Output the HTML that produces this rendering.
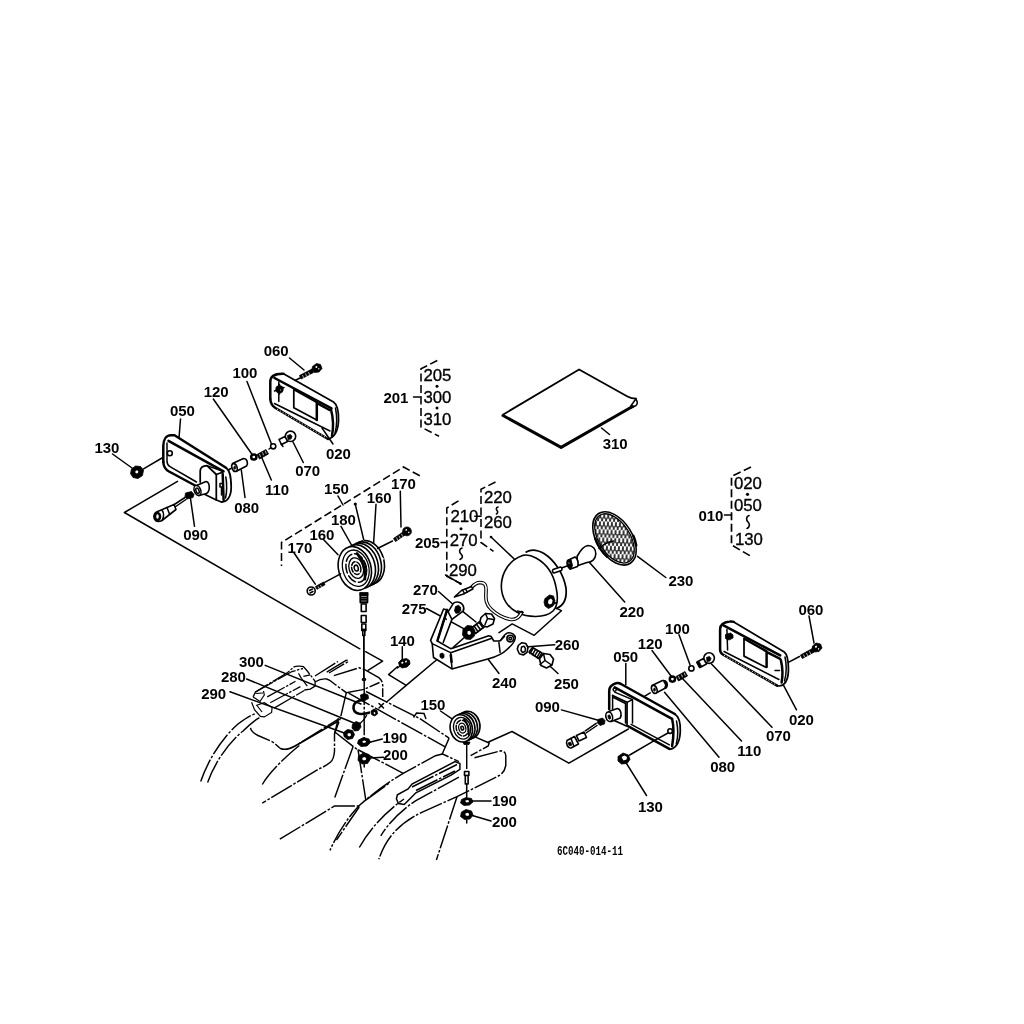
<!DOCTYPE html>
<html><head><meta charset="utf-8"><title>Parts diagram</title>
<style>
html,body{margin:0;padding:0;background:#fff;}
body{width:1024px;height:1024px;overflow:hidden;font-family:"Liberation Sans",sans-serif;}
svg{display:block;}
text{font-family:"Liberation Sans",sans-serif;fill:#000;}
.b{font-weight:bold;font-size:15px;}
.t{font-weight:normal;font-size:16.8px;stroke:#000;stroke-width:0.35px;}
.m{font-family:"Liberation Mono",monospace;font-size:9.17px;font-weight:bold;}
.l{fill:none;stroke:#000;stroke-width:1.5;stroke-linecap:round;stroke-linejoin:round;}
.o{fill:none;stroke:#000;stroke-width:1.75;stroke-linecap:round;stroke-linejoin:round;}
.h{fill:none;stroke:#000;stroke-width:2.5;stroke-linecap:round;stroke-linejoin:round;}
.w{fill:#fff;stroke:#000;stroke-width:1.6;stroke-linecap:round;stroke-linejoin:round;}
.k{fill:#000;stroke:#000;stroke-width:0.8;stroke-linejoin:round;}
.d{fill:none;stroke:#000;stroke-width:1.55;stroke-dasharray:8 3.5;}
.c{fill:none;stroke:#000;stroke-width:1.45;stroke-dasharray:24 1.8 2.6 1.8;stroke-linecap:butt;}
</style></head><body>
<svg width="1024" height="1024" viewBox="0 0 1024 1024">
<rect width="1024" height="1024" fill="#fff"/>
<!-- LEADERS -->
<g id="leaders" class="l">
<path d="M289.5 358L304 370"/>
<path d="M247 381.5L271.3 443.5"/>
<path d="M213.3 399L252.5 455"/>
<path d="M180.5 419L179 438"/>
<path d="M112.5 454L132 468"/>
<path d="M303.3 462.5L292 440"/>
<path d="M271.3 480L261.3 456.5"/>
<path d="M245 497.5L241.3 470"/>
<path d="M194.5 526.3L190.4 498"/>
<path d="M143.5 468.8L162 458"/>
<path d="M333 444L322 428"/>
<!-- horn group -->
<path d="M400.3 491.3L401 527"/>
<path d="M376 504.3L373.5 545"/>
<path d="M355.3 504.3L364 541"/>
<path d="M341 526.3L351.5 545"/>
<path d="M323.5 539.6L338 554.7"/>
<path d="M294.1 553L315.3 584.1"/>
<path d="M338 496L343 505"/>
<!-- brackets ticks -->
<path d="M413.5 397H421"/>
<path d="M474.8 516.3H481"/>
<path d="M441 542.5H446.8"/>
<path d="M724.5 515H731.5" stroke-width="1.6"/>
<!-- 310 / 230 / 220 -->
<path d="M601.5 428L609.5 434.5"/>
<path d="M637.5 556.3L665.8 577.5"/>
<path d="M589.5 562.4L624.7 602"/>
<path d="M491 537L514 558.8"/>
<!-- bracket area -->
<path d="M438.5 591.5L453.5 604.8"/>
<path d="M426.5 608.5L466 629.8"/>
<path d="M402.3 646.8V659"/>
<path d="M554.8 644.8L528.5 646.8"/>
<path d="M499 673.5L488.5 659.8"/>
<path d="M558 673.5L549.8 666"/>
<path d="M440.5 711L453.5 719.8"/>
<path d="M561.4 709.9L598.3 720.2"/>
<path d="M382.3 739L369.8 742.3"/>
<path d="M383.5 757.3L369.8 758"/>
<path d="M491 801H472.3"/>
<path d="M491 821L472.3 815.5"/>
<!-- 300 280 290 -->
<path d="M265.200 665.400L361 704"/>
<path d="M246.600 679L354 723"/>
<path d="M230 691.800L345 733.300"/>
<!-- right lamp -->
<path d="M809 616L814 643"/>
<path d="M679 634.8L690 664.8"/>
<path d="M652 650.5L672 677.3"/>
<path d="M625.8 663.5V684.8"/>
<path d="M796.5 709.8L783.3 684.8"/>
<path d="M772 727.3L711.5 664"/>
<path d="M741.5 741L682.5 678.5"/>
<path d="M719 757.3L664.5 692.3"/>
<path d="M646.5 795.5L625.8 762.3"/>
<path d="M629.7 755L654.3 740.7L668 733"/>
<path d="M799.5 656.5L788.3 662.3"/>
</g>
<!-- BRACKETS (dashed) -->
<g id="brackets" class="d">
<path d="M437.3 360.5L421 368.8V427L439 436.3"/>
<path d="M458.5 500.8L446.8 508V576.3L461 583.8"/>
<path d="M495.5 482L481 489.3V542.5L493.5 551.3"/>
<path d="M751 467L731.5 476.3V545L751 556.3" stroke-width="1.7"/>
<path d="M419.8 475.8L403.5 467L281.5 542.500V566"/>
</g>
<g id="dots" fill="#000">
<circle cx="437" cy="386.3" r="1.5"/><circle cx="437" cy="408" r="1.5"/>
<circle cx="461" cy="528.8" r="1.5"/><circle cx="747.5" cy="494.3" r="1.6"/>
<circle cx="355.3" cy="504" r="1.6"/><circle cx="491" cy="537" r="1.3"/>
</g>
<g class="l" style="stroke-width:1.6">
<path d="M462 548c-3 1-3 4-1 6s2 4-1 5.5"/>
<path d="M498 507c-2 .5-2 2.500-1 3.500s1 2.500-.5 3.500"/>
<path d="M749 515.500c-3 1-3 4.500-1 6.500s2 5-1 6.500"/>
</g>
<!-- LONG ASSEMBLY LINES -->
<g id="long" class="l">
<path d="M177.500 481.300L124.400 512.500L359.800 648.800"/>
<path d="M365.600 651.700L382.600 661.100L368 670.400"/>
<path d="M440 657L406.200 685.400L386.600 702"/>
<path d="M397.400 666.800L388.600 674.600L406.200 685.400"/>
<path d="M488.500 742L512 731.500L568.900 763.200L628.400 729"/>
</g>
<!-- LEFT LAMP 050 -->
<g id="lampL">
<path class="h" d="M163.300 462V446C163.300 440 166 435.300 171 435.300H174.500L226 467.800" />
<path class="o" d="M226 467.800C230 470.500 231 476 231.200 487C231.200 497 227 502.200 221.500 502"/>
<path class="h" d="M163.300 462C163.500 467 165.500 469.500 169 471.500L196 486" stroke-width="2"/>
<path class="l" d="M167 443V461C167 464 168 465.500 170 466.700L196.500 482"/>
<path class="h" d="M168.500 440.800L223.500 471.300" stroke-width="1.8"/>
<circle class="w" cx="169.800" cy="453.200" r="2.500"/>
<!-- housing box -->
<path class="o" d="M200.200 482V471C200.200 467.500 202.500 465.800 207 465.600L216.300 474.500V500L204 494"/>
<path class="l" d="M207 465.600L223.500 471.500M216.300 474.500L223 472M216.300 500L221.500 502"/>
<path class="h" d="M222.700 474L223.600 500" stroke-width="2.600"/>
<path class="l" d="M220 483.500h3v3.500h-3zM221.500 487V495"/>
<path class="l" d="M225.800 477C227 483 227 493 225.500 498"/>
<!-- socket -->
<path class="w" d="M196.500 485.500L206 481.500C210 482 210.500 491 206.500 493.500L199 495.500z"/>
<ellipse class="w" cx="197.500" cy="490.500" rx="3.200" ry="5.200" transform="rotate(-20 197.500 490.500)"/>
<ellipse class="l" cx="197.500" cy="490.800" rx="1.500" ry="2.800" transform="rotate(-20 197.500 490.800)"/>
</g>
<!-- 090 connector -->
<g id="conn090L">
<path class="k" d="M185.500 493l6-1.500 2.500 3-1 3-6 1.500-2-2.500z"/>
<path class="l" d="M185 497.500L173.500 505M186 499.500L175 507"/>
<path class="w" d="M174 504.500L156.500 512C153.500 513.500 153 518 155.500 520.500C157.500 522 160 521.500 162 520.500L176 509.500z"/>
<path class="l" d="M167 507.500L169.500 514M162 510C164 513 164 517 162 520.500"/>
<ellipse class="h" cx="157.500" cy="516.500" rx="2.500" ry="3.500" stroke-width="1.800"/>
</g>
<!-- 130 nut L -->
<g id="nut130L">
<path class="k" d="M131.500 469l4-3 5 .5 3 3.500-1 5.500-4.500 3-5-1-2.500-4z"/>
<path d="M135.500 471l1.500-.7 1.300 1-.3 1.700-1.700.4-1-1z" fill="#fff"/>
</g>
<!-- 080 L -->
<g id="p080L">
<path class="w" d="M232.500 463.500L243.500 458.500C247 458.500 248.500 463 246.500 466L236 471.500z"/>
<ellipse class="w" cx="234.500" cy="467.500" rx="2.500" ry="4" transform="rotate(-20 234.500 467.500)"/>
<ellipse class="k" cx="234.700" cy="467.700" rx="0.900" ry="1.600"/>
<path class="l" d="M231 468.500L228 470"/>
</g>
<!-- 120 / 110 / 100 L -->
<g id="smallL">
<circle class="h" cx="253.800" cy="457" r="2.600" stroke-width="1.900"/>
<path class="k" d="M257 454.500l9-5 2.500 4.500-9 5z"/>
<path d="M259.500 454l1 3M262.500 452.300l1 3M265.300 450.800l1 3" stroke="#fff" stroke-width=".7" fill="none"/>
<circle class="w" cx="273.200" cy="446.300" r="2.600"/>
<path class="l" d="M269 449L270.800 447.800"/>
</g>
<!-- 070 bulb L -->
<g id="bulbL">
<circle class="w" cx="290.500" cy="436.300" r="5.200" stroke-width="1.500"/>
<path class="k" d="M287.500 435.500l3-1 1.500 2-1 2.500-3 .5z"/>
<path class="w" d="M279 439.500L285 436.500L287.500 441.500L281.500 444.500z" stroke-width="2.200"/>
<path class="l" d="M281 444L283 446.500"/>
</g>
<!-- LEFT LENS 020 -->
<g id="lensL">
<path class="h" d="M270.300 399V381.500C270.500 376.500 275 373.500 283.500 373.800" stroke-width="2.400"/>
<path class="o" d="M283.500 373.800L333.500 402C338 405 338.800 412 338.500 421C338 431 334 437.500 328 439"/>
<path class="h" d="M270.300 399C270.500 403.500 272 405.800 275.500 408L328 439" stroke-width="2.600"/>
<path class="h" d="M274.500 378L331.500 408.300" stroke-width="2"/>
<path class="l" d="M278.800 382V401.500M274.500 403.500L330 431"/>
<path d="M277 409L327 438.200" fill="none" stroke="#fff" stroke-width=".9" stroke-dasharray="1.200 2"/>
<circle class="h" cx="279.500" cy="389.300" r="2.900" stroke-width="1.700"/>
<path class="l" d="M274.500 391L284 387.500M279.500 384.500V394"/>
<path class="o" d="M293.800 388.500V407.800L316.800 420"/>
<path class="l" d="M294.500 390L316.800 402.500"/>
<path class="h" d="M316.800 402.500V420" stroke-width="2.300"/>
<path class="h" d="M318.500 404L329.500 410" stroke-width="2"/>
<path class="h" d="M331 409.500C333 417 333.500 428 332 436" stroke-width="2.300"/>
<path class="l" d="M335.500 408C337 416 337 426 335 433"/>
</g>
<!-- 060 screw L -->
<g id="screwL">
<path class="k" d="M312.500 366.500l4-3 4 1 1.500 4-3 3.500-4.500.5-2.500-3z"/>
<path d="M315.500 366.500l1.200-.6.800.9-.6 1.200-1.200.1zM318 368.500l1-.5.500 1-.8.800z" fill="#fff"/>
<path class="k" d="M299.500 375.500l12.500-6.500 1.500 3.500-12.500 6.500z"/>
<path d="M302.500 375l1 2.800M305.500 373.500l1 2.800M308.500 372l1 2.800" stroke="#fff" stroke-width=".7" fill="none"/>
<path class="l" d="M300 378L295 380.500"/>
</g>
<!-- HORN (upper) -->
<g id="hornU">
<g transform="translate(354.800 568.500)">
<path class="w" d="M0 0" />
<ellipse class="w" cx="13" cy="-6" rx="16.200" ry="22.300" transform="rotate(-15 13 -6)" stroke-width="1.500"/>
<path d="M-4 -22L9 -28L29 -10L20 14L6 22z" fill="#fff"/>
<ellipse class="w" cx="10" cy="-4.600" rx="16.200" ry="22.300" transform="rotate(-15 10 -4.600)" stroke-width="1.100"/>
<ellipse class="w" cx="7" cy="-3.200" rx="16.200" ry="22.300" transform="rotate(-15 7 -3.200)" stroke-width="1.700"/>
<ellipse class="w" cx="4" cy="-1.800" rx="16.200" ry="22.300" transform="rotate(-15 4 -1.800)" stroke-width="1.100"/>
<ellipse class="w" cx="0" cy="0" rx="16.200" ry="22.300" transform="rotate(-15)" stroke-width="1.700"/>
<g transform="rotate(-15)" class="l">
<ellipse cx="1" cy="0" rx="13" ry="18.500" stroke-width="1.300"/>
<ellipse cx="1.500" cy="0" rx="10" ry="14.500" stroke-dasharray="9 3"/>
<ellipse cx="1.500" cy="0" rx="7.200" ry="10.500" stroke-width="1.300"/>
<ellipse cx="1.500" cy="0" rx="4.500" ry="6.500" stroke-dasharray="5 2"/>
<ellipse cx="1.500" cy="0" rx="2" ry="3"/>
<path d="M6 -14C10 -6 10 6 7 13" stroke-width="2.600"/>
<path d="M9 -9C11.500 -3 11.500 4 9.500 9" stroke-width="1.500"/>
</g>
</g>
<!-- stem -->
<path class="k" d="M359.700 592.500h8.400v3h-8.400z"/>
<path class="w" d="M360.300 595.500h7.200v7.300h-7.200z"/>
<path class="l" d="M360.300 597.500h7.200M360.300 599.300h7.200M360.300 601.100h7.200"/>
<path class="w" d="M361.300 604h4.800v7.500h-4.800z" stroke-width="1.500"/>
<path class="w" d="M361.300 615.500h4.800v7h-4.800z" stroke-width="1.500"/>
<path class="w" d="M361.800 624h4v5l-1 1.500v5h-2v-5l-1-1.500z" stroke-width="1.500"/>
<path class="k" d="M361.500 629h4.600v2h-4.600z"/>
<path class="l" d="M363.800 636V679"/>
</g>
<!-- screws 170 -->
<g id="screws170">
<path class="k" d="M393.500 538.500l9.500-6.500 2 3-9.500 6.500z"/>
<path d="M396.500 537.500l1.200 2.500M399 535.800l1.200 2.500M401.500 534l1.200 2.500" stroke="#fff" stroke-width=".7" fill="none"/>
<circle class="k" cx="407" cy="531.400" r="4.400"/>
<path d="M405.300 529.500l1.500-.5.500 1.300-1.500.6zM408 532l1.200-.4.300 1.200-1.200.5z" fill="#fff"/>
<path class="l" d="M392.500 541L377.500 548.500"/>
<path class="k" d="M315.500 586.500l8-4.500 1.500 2.800-8 4.500z"/>
<path d="M318 586.300l1.200 2.500M320.500 585l1.200 2.500" stroke="#fff" stroke-width=".7" fill="none"/>
<circle class="w" cx="311.200" cy="591" r="4" stroke-width="1.900"/>
<path class="l" d="M309.500 590.500l3-1.500M310 593l3-1.500"/>
<path class="l" d="M324.200 582.700L340.600 573.800"/>
</g>
<defs>
<pattern id="hatch" width="4" height="8" patternUnits="userSpaceOnUse" patternTransform="rotate(35)">
<path d="M1 0.300v5M3 4.300v4" stroke="#000" stroke-width="1.600" fill="none"/>
</pattern>
</defs>
<!-- LENS 230 -->
<g id="lens230" transform="rotate(-32.600 614.500 538.400)">
<ellipse class="w" cx="614.500" cy="538.400" rx="17.600" ry="29.500" stroke-width="1.700"/>
<ellipse cx="614.500" cy="538.400" rx="15.600" ry="27.400" fill="url(#hatch)" stroke="#000" stroke-width="1.300"/>
<path class="h" d="M598.200 528C596.500 535 596.500 543 598.500 550" stroke-width="2.600"/>
<path class="h" d="M631.800 546.500C631.300 550 630.300 553 629 556" stroke-width="3.200"/>
</g>
<path class="l" d="M599 548.500C603 544.500 608 542 613.500 541" stroke-width="1.500"/>
<!-- BULB 220 -->
<g id="bulb220">
<path class="w" d="M577 556.500C580 551 583 546 588 545.500C593 545.500 596 549.500 595.800 554C595.500 559 592 562.500 587 562.500L578 565.500z" stroke-width="1.400"/>
<path class="w" d="M567.500 560.500L575 557C577.500 558 579 563.500 577.500 566.500L570.500 569C567.500 568 566.500 563.500 567.500 560.500z" stroke-width="2"/>
<path class="k" d="M567.500 560.500L570.500 559C572 561 572.500 566 571.500 568.500L570.500 569C567.500 568 566.500 563.500 567.500 560.500z"/>
<path d="M568.500 562.500l2-.8.500 2-2 .8z" fill="#fff"/>
<path class="h" d="M570 560.500C571 563 571 566 570 568.500" stroke-width="3"/>
<path class="k" d="M569 564.500l3-1 .5 2.500-3 1z"/>
<path class="l" d="M567 566L560 568.500"/>
</g>
<!-- HEADLIGHT SHELL 210 -->
<g id="shell210">
<path class="o" d="M526.200 552C531 549 537 549.500 544 553.500C555 560.500 563.500 574 566 588C567 598 565 605 556.500 608.500"/>
<path class="w" d="M522.700 555.400C510 559.500 501.500 572 501.300 586C501.300 598 508 608 517.500 612.500C527 617.500 545 618.500 553 611C558 606 558 596 556 587C553.500 574 546 563.500 536 558C531.500 555.500 527 554.500 522.700 555.400z" stroke-width="1.400"/>
<path class="w" d="M553 569.500l7.500-2.500c1.500.3 2 2.500 1 3.500l-7.500 2.500c-1.500-.3-2-2.500-1-3.500z" stroke-width="1.400"/>
<path class="k" d="M545 598.500l4.500-3.500 4 1 1.500 5-2 5-4.500 2.500-3.500-2.500-1-4z"/>
<path d="M548.500 600l2.500-1.500 1.500 2-.5 3-2.500 1-1.500-1.500z" fill="#fff"/>
<path class="l" d="M556.100 608.100L561.400 610.700L534.200 635.300L512.200 623.900L499 632.700"/>
<path class="l" d="M553.500 604L556.500 602.500"/>
</g>
<!-- WIRE + connector 270 -->
<g id="wire">
<path d="M471.500 587.500C474 584.500 476.500 582.600 480 582.600C485 582.600 486.500 585 486 592C485.500 600 486 604 491.200 609.300C497 615 505 618.500 511 619.500C516.500 620 519.500 617 521.500 612.500" fill="none" stroke="#000" stroke-width="3.600" stroke-linecap="round"/>
<path d="M471.500 587.500C474 584.500 476.500 582.600 480 582.600C485 582.600 486.500 585 486 592C485.500 600 486 604 491.200 609.300C497 615 505 618.500 511 619.500C516.500 620 519.500 617 521.500 612.500" fill="none" stroke="#fff" stroke-width="1.500" stroke-linecap="round"/>
<path class="w" d="M454.400 597L461.500 590.500L471.500 586.500L472.800 589L463.500 594z" stroke-width="1.500"/>
<path class="l" d="M462.500 590L464.500 593.500M465.500 588.800L467.300 592"/>
<path class="l" d="M517.500 611l5.500 1.500"/>
<path class="l" d="M445.500 575L460.800 583.900"/>
<circle cx="460.500" cy="583.800" r="1.300" fill="#000"/>
</g>
<!-- BRACKET 240 -->
<g id="bracket240">
<path class="w" d="M443.600 609L430.600 640.400L432.200 643.600L433.500 657.500L451.900 668.900L488.700 658.800C497 656.500 503 653.500 507 649.500C511 646 514.500 643 515.200 638.500C515.500 635 512 632.500 508.500 632.800C505 633.200 503 637 500.500 640.500L498.900 641H493.800L491.200 636.600L488.700 635.700L453.200 648L450.600 648.600L437.300 641L447.100 609.900z" stroke-width="1.400"/>
<path class="h" d="M447.100 609.900L437.500 640.500" stroke-width="2"/>
<path class="l" d="M432.200 643.600L450.600 652.700L491.200 638.500M450.600 652.700L452 668.500M498.900 642.300L500.100 652.400"/>
<path class="h" d="M450.800 655L451.600 662" stroke-width="1.800"/>
<path class="w" d="M448.100 611.800L453.200 603.600C455 601.500 460 601 462.700 604.800C464 607 464 609.500 463.100 611.200L451.900 619.400L443.300 642.300" stroke-width="1.400"/>
<path class="l" d="M448.100 611.800L451.900 619.400"/>
<path class="k" d="M455.500 606.500l3-1.200 2 1.700.3 3.500-2 2.500-3 .3-1.300-2.500z"/>
<path class="k" d="M440 654l2.500-1 1.500 1.500v3l-2 1-2-1.500z"/>
<path class="l" d="M453.200 647.400L464.600 637.200M463.300 611.800L476 622"/>
<circle class="w" cx="510.200" cy="638.600" r="3.300" stroke-width="1.800"/>
<circle class="l" cx="510.200" cy="638.600" r="1.300"/>
<path class="l" d="M500.500 640.500L504.500 636.500"/>
</g>
<!-- 275 washer + bolt -->
<g id="b275">
<path class="w" d="M471.500 628l10.500-8 4 5.500-10.500 8z" stroke-width="1.500"/>
<path class="l" d="M474 626l4 5.500M476.500 624.200l4 5.500M479 622.400l4 5.500M481.300 620.700l4 5.500" stroke-width="1.400"/>
<path class="k" d="M463 629.500l4-4 5 .5 3 4.500-.5 5.500-4 3.500-5-.5-3-4z"/>
<path d="M467.500 631.500l1.800-.8 1.500 1.200v2l-1.600 1.200-1.700-1.200z" fill="#fff"/>
<path class="w" d="M481 617.500l4.500-4 6 .5 3 4.500-1.500 5.500-6 3-4.500-1.500-2.500-4z" stroke-width="1.900"/>
<path class="l" d="M485.500 613.500l2 5 6 1M487.500 618.500l-2.500 6"/>
</g>
<!-- 260 washer + 250 bolt -->
<g id="b250">
<path class="w" d="M518.300 645.500l3.500-2.800 4 .8 2.200 4-1 4.800-3.700 2.700-4-1.200-2-4.500z" stroke-width="2"/>
<path class="l" d="M521.500 647l2.500-.8 1.500 2.300-.5 3-2.500 1-1.500-2z" stroke-width="1.300"/>
<path class="w" d="M529 652l3.500-4.500 9.500 5.500-3.500 5.500z" stroke-width="1.500"/>
<path class="l" d="M533 648.500l-3 5M535.300 649.800l-3 5M537.600 651.100l-3 5M539.900 652.400l-3 5" stroke-width="1.300"/>
<path class="w" d="M539.500 659l4-5.500 6.500 1 3.500 4.500-1.500 6-5.500 3-5.500-2.500z" stroke-width="1.700"/>
<path class="l" d="M543.500 653.500l1.500 7 6.500 4.500M545 660.500l-5 4"/>
</g>
<!-- RIGHT LAMP 050 -->
<g id="lampR">
<path class="h" d="M609.200 709V691C609.200 687 612 684.500 616 683.300C618 682.800 619.500 683.300 621 684L674.800 714" stroke-width="2"/>
<path class="o" d="M674.800 714C679.500 717 680.500 723 680.300 731C680 741 677 747.500 670.700 749.200L669 748.800"/>
<path class="h" d="M628.400 726.300L669.400 748.900" stroke-width="2"/>
<path class="h" d="M614.700 687.300L672.100 718.800C673.800 726 673.500 738 672.100 746.100" stroke-width="1.900"/>
<path class="l" d="M631.100 724.300L669.400 744.800"/>
<path class="l" d="M676.500 721C678 728 677.800 738 676.300 744"/>
<circle class="l" cx="614.700" cy="689.600" r="1.600"/>
<circle class="w" cx="670.100" cy="731.100" r="2.300"/>
<!-- box -->
<path class="o" d="M612.600 695.500L627 702.400V726.300L614.700 720.800"/>
<path class="l" d="M612.600 695.500V709M614.700 692.100L632.500 699.600V722.900M627 702.400L632.500 699.600"/>
<path class="l" d="M613.500 697.500L625.500 703.500V723"/>
<!-- socket -->
<path class="w" d="M609.200 711.300L617.400 708.500C621 709 622 715 620.200 718.100L611.300 721.500z"/>
<ellipse class="w" cx="609.200" cy="716.700" rx="3.300" ry="4.900" transform="rotate(-15 609.200 716.700)" stroke-width="1.500"/>
<ellipse class="k" cx="609.300" cy="717" rx="1.200" ry="2.200" transform="rotate(-15 609.300 717)"/>
</g>
<!-- 090 R -->
<g id="conn090R">
<path class="k" d="M598 719.500l4.500-1.500 2.500 2.500-.5 3.500-4.500 1.500-2.500-2.500z"/>
<path class="l" d="M596.200 723.300L585.300 730.800M597 725.500L586 733"/>
<path class="w" d="M576.400 735.500L584 732L586.500 737.500L579 741z" stroke-width="1.400"/>
<path class="w" d="M567 740.500L574.500 736.500L578.500 744L571 748C568 748.500 565.500 744 567 740.500z" stroke-width="2"/>
<path class="l" d="M571 738.500L574 746.500"/>
<path class="k" d="M568 743l2.500-1 1.500 3-2.500 1z"/>
</g>
<!-- 130 nut R -->
<g id="nut130R">
<path class="k" d="M618 756.500l5-3.500 5.500 2 1.500 4.500-3 4-5.500.5-3.500-3z"/>
<path d="M621.500 757l3-1.500 2.500 1.500-.5 2.500-3 1z" fill="#fff"/>
</g>
<!-- 080 R -->
<g id="p080R">
<path class="w" d="M652 685.500L662.500 680.500C666.500 680 668.500 684 666.500 687.500L656 693z"/>
<ellipse class="w" cx="654.300" cy="689.400" rx="2.600" ry="4.100" transform="rotate(-20 654.300 689.400)" stroke-width="1.500"/>
<ellipse class="k" cx="654.500" cy="689.600" rx="0.900" ry="1.600"/>
<path class="l" d="M650.200 692.800L644.800 696.200"/>
<path class="h" d="M664.500 681.500C666 683 666.500 685.500 665.500 687.500" stroke-width="1.700"/>
</g>
<g id="smallR">
<circle class="h" cx="672.400" cy="679.100" r="2.600" stroke-width="1.900"/>
<path class="k" d="M676 676.500l9-5 2.500 4.500-9 5z"/>
<path d="M678.500 676l1 3M681.500 674.300l1 3M684.300 672.800l1 3" stroke="#fff" stroke-width=".7" fill="none"/>
<circle class="w" cx="691.400" cy="668.400" r="2.600" stroke-width="1.500"/>
</g>
<g id="bulbR">
<circle class="w" cx="709.100" cy="658.100" r="5.300" stroke-width="1.500"/>
<path class="k" d="M706.500 657.500l3-1 1.500 2-1 2.500-3 .5z"/>
<path class="w" d="M697 662L703.500 658.500L706.500 664L700 667.500z" stroke-width="2.200"/>
<path class="k" d="M696.500 662.500l2.500-1.300 2.800 5.300-2.500 1.300z"/>
</g>
<!-- RIGHT LENS 020 -->
<g id="lensR">
<path class="h" d="M720.100 650V629C720.300 625 723 622.500 729.700 621.600C731.500 621.300 732.500 621.500 733.800 621.900" stroke-width="2.400"/>
<path class="o" d="M733.800 621.900L784.300 652C788 655 788.600 662 788.400 671.100C788 680 784.500 685.500 779 686"/>
<path class="h" d="M720.100 650C720.300 652.500 721 653.500 722.800 654.500L777.500 685.800" stroke-width="2.600"/>
<path d="M724 655.300L776.500 685.200" fill="none" stroke="#fff" stroke-width=".9" stroke-dasharray="1.200 2"/>
<path class="h" d="M723.500 625.300L780.200 655.400" stroke-width="2"/>
<path class="l" d="M726.900 629.400L727.600 649.900M724 651.500L778.900 679.500"/>
<path class="k" d="M725.500 634.500l5-1.500 2.500 2v3l-4 2-3.500-1.500z"/>
<path class="o" d="M744 638.300V656.100L765.200 667"/>
<path class="h" d="M744.700 639L766.600 651.300V667" stroke-width="2.200"/>
<path class="h" d="M767.900 652.600L780.200 658.800" stroke-width="2"/>
<path class="h" d="M780.900 660.200C782.500 667 782.800 676 781.600 682.500" stroke-width="2.400"/>
<path class="l" d="M775 670.400h4.500"/>
<path class="l" d="M785 657C786.500 664 786.500 674 784.500 681"/>
</g>
<g id="screwR">
<path class="k" d="M812.500 646l3.500-3 4.500 1 1.500 4-3 3.500-4.500.5-2.500-3z"/>
<path d="M815 646.200l1.300-.6.800.9-.6 1.200-1.300.1zM817.800 648.600l1-.5.500 1-.8.800z" fill="#fff"/>
<path class="k" d="M800.500 655l12-6.500 1.800 3.500-12 6.500z"/>
<path d="M803.500 654.500l1.200 2.800M806.500 653l1.200 2.800M809.500 651.300l1.200 2.800" stroke="#fff" stroke-width=".7" fill="none"/>
</g>
<!-- PAPER 310 -->
<g id="paper310">
<path class="o" d="M503.300 414.400L579.100 369.400L627.500 396.400C630 397.800 633 398.500 636.100 398.500" stroke-width="1.500"/>
<path class="l" d="M636.100 398.500L630.500 406.500M636.100 399.500C637.500 401.500 637.500 404 636 405.500L631 408"/>
<path d="M503 415.500L561.100 447.400L632.500 406.500" fill="none" stroke="#000" stroke-width="3" stroke-linejoin="round" stroke-linecap="round"/>
</g>
<!-- CHASSIS / FENDERS (chain lines) -->
<g id="chassis" class="c">
<!-- left fender lamp -->
<g stroke-dasharray="20 1.500 2.500 1.500" stroke-width="1.300">
<path d="M253.100 696.900L255.500 692L264.300 686.600L287.700 672.500L293.600 667.100C296 666 301 665.800 303.400 666.600L307.300 671L315.100 681.300V686.100L310.200 689.100L304.300 690"/>
<path d="M255.500 692L292 671.500L303 668.500"/>
<path d="M267.200 696.900L295.500 681.300M270.200 702.700L300.400 686.600M274.100 708.100L304.300 690.500"/>
</g>
<g stroke-dasharray="none" stroke-width="1.200">
<path d="M298.500 673.400L301.400 678.300L307.300 686.100M303.400 676.400L310.200 674.900"/>
<path d="M253.100 696.900L260 701.500L264.300 695L263.500 691M255.500 693.500L263 693"/>
<path d="M251.600 702.200L254.500 709.600L260.400 716.400L264.300 716.900L271.600 712.500L272.100 707.600L264.300 702.700L256 705.500"/>
<path d="M257 705.500L262 712"/>
</g>
<!-- fender arcs left -->
<path d="M200.700 781.600C208 760 222 738 238 724C246 718 251 715 256.400 713.200"/>
<path d="M207.600 782.600C214 764 228 743 243 731C250 724 255 720 260.300 717.100"/>
<!-- panel below -->
<path d="M250.500 727.900C251 731 254 733.500 258 735.500L272 741.600C276 744 278 747 280.500 748.500C284 750 290 749 296 745.500L338.400 719.100"/>
<path d="M338.400 718.100L334.500 733.800V751.300C334 757 332.500 760.500 330.600 762C326 766 322 767.500 318.900 768.900L262.300 803.100"/>
<path d="M299.400 745.500C291 752 285 758 279.800 763C272 771 266 778 262.300 784.500"/>
<!-- platform -->
<path d="M333.900 675.600L359.300 667.800L365.200 669.800L378.800 677.600C382 680 382.700 683 382.700 685.400V697.100"/>
<path d="M315 682C319 679.500 323 678.500 326.700 679C330 680 332 682 334.500 684L346.300 692.700L364.200 689.300L379.500 682.500"/>
<path d="M346.300 692.700L340.400 718.100L334.500 733.800"/>
<path d="M326.700 672.200L346 660.500C348 659.800 349 661 347.500 662L329 673"/>
<path d="M315 676L338 661.500"/>
<!-- frame rails -->
<path d="M366 691.500L419.800 718.600L449.100 738.100"/>
<path d="M348.600 693.200L445.200 746.900"/>
<path d="M334.500 731.800L356.400 748.900L403.200 773.300"/>
<path d="M353.100 746.400L334.500 798.200"/>
<path d="M358 749.400L365.800 800.200"/>
<path d="M279.800 839.200L334.500 806H359.900L336.500 840"/>
<!-- horn mount -->
<path d="M449.100 738.100L442.300 753.800L458.900 761.600"/>
<path d="M475.500 737.100L489.200 743L488.200 745.900L470.600 755.700"/>
<!-- right fender surface -->
<path d="M443.300 753.800L435.500 755.700L403.200 773.300C385 784 370 796 359.300 805.500C348 817 337 834 330 850.400"/>
<path d="M474.500 757.700L500.900 750.800C504 751 505.800 753 505.800 755.700V765.500C505 770 503 773 499.900 775.200L457 796.700L421.800 812.300C410 818 401 825 394.500 831.900C387 840 382 850 378.800 859.200"/>
<path d="M458.900 777.200L415.900 800.600C400 811 388 824 380.800 835.800"/>
<path d="M359.300 847.500C370 828 388 810 404 799"/>
<path d="M457 796.700L436.400 860"/>
<path d="M365.800 800.200L390 782.600"/>
<!-- right fender lamp -->
<path d="M396.400 798.700L397.400 794.800L408.100 788.900L412 784L455 761.600L459.900 763.500V769.400L451.100 775.200L415.900 792.800L412 796.700L404.200 804.500L398.400 803.600z" stroke-dasharray="none" stroke-width="1.500"/>
<path d="M412 787L457 764.500M416 790.500L455 771"/>
</g>
<g id="chassis-solid">
<path class="l" d="M296 745.500L338.400 721"/>
<path class="l" d="M363.800 636V679"/>
<ellipse class="l" cx="364" cy="679.500" rx="1.600" ry=".9"/>
<path class="c" d="M364.200 681V741" stroke-dasharray="9 3"/>
<path class="l" d="M379 703.500l4.500 4.500M383.500 703.500l-4.500 4.500"/>
<path class="c" d="M413.500 717.500L416.500 713L424 713.500L426 719"/>
<!-- U-bolt 300 -->
<path d="M363.200 700C358 700.500 354.400 702.500 353.600 706C353 710 355 713 359.300 713.800C362.500 714.300 366 713.500 369 712.700" fill="none" stroke="#000" stroke-width="2.600" stroke-linecap="round"/>
<path class="k" d="M360.500 695l4-1.500 3.500 1.500.5 3.500-3.500 2-4-1z"/>
<path class="k" d="M371 711l3-2 3 1.500.5 3.500-3 2-3-1.500z"/>
<path d="M373.500 712.500l1-.5.800.7-.1 1.200-1 .3z" fill="#fff"/>
<!-- 280/290 nuts -->
<path class="k" d="M352.500 724l3.500-2.500 4 1.500 1 4-2.500 3.500-4 .5-2.500-3z"/>
<path class="l" d="M359.500 724C362 722 365 718.500 366.500 715.500"/>
<path class="k" d="M343.500 732.500l4-3 5 1 2 4-2 4-5 1-3.500-3z"/>
<path d="M347.500 733.800l1.700-.8 1.600.8.200 1.600-1.700 1-1.600-.7z" fill="#fff"/>
<!-- 190/200 left -->
<path class="k" d="M358.500 740l5-2.500 5.500 1.500 1.500 3.500-3.500 3.500-6 .5-3.500-3z"/>
<path d="M362.500 741l2-.5 1.500.8-.3 1.200-2 .5-1.200-.8z" fill="#fff"/>
<path class="k" d="M358.500 756l5-3 5.500 1.500 1.500 4.500-3 4.500-5.500.5-4-3.500z"/>
<path d="M362.500 757.800l2-.8 1.600 1-.2 1.800-2 .8-1.600-1.200z" fill="#fff"/>
<path class="l" d="M364.200 764v3"/>
</g>
<!-- HORN lower 150 -->
<g id="hornL">
<g transform="translate(461.300 728.400)">
<ellipse class="w" cx="7.500" cy="-3.500" rx="11" ry="13.800" transform="rotate(-15 7.500 -3.500)" stroke-width="1.500"/>
<ellipse class="w" cx="5" cy="-2.300" rx="11" ry="13.800" transform="rotate(-15 5 -2.300)" stroke-width="1.100"/>
<ellipse class="w" cx="2.500" cy="-1.200" rx="11" ry="13.800" transform="rotate(-15 2.500 -1.200)" stroke-width="1.600"/>
<ellipse class="w" cx="0" cy="0" rx="11" ry="13.800" transform="rotate(-15)" stroke-width="1.800"/>
<g transform="rotate(-15)" class="l">
<ellipse cx=".8" cy="0" rx="8.500" ry="11" stroke-width="1.300"/>
<ellipse cx="1" cy="0" rx="6" ry="8" stroke-dasharray="5 2"/>
<ellipse cx="1" cy="0" rx="3.500" ry="5" stroke-width="1.300"/>
<ellipse cx="1" cy="0" rx="1.300" ry="2"/>
<path d="M5 -8C7.500 -3 7.500 3 5.500 8" stroke-width="2"/>
</g>
</g>
<path class="k" d="M463 742h7l-1 2.500h-5z"/>
<path class="c" d="M466.700 745V770" stroke-dasharray="7 2.500"/>
<path class="w" d="M464.500 771.500h4.400v4h-4.400z" stroke-width="1.600"/>
<path class="w" d="M465.300 775.500h2.800v8.500h-2.800z" stroke-width="1.300"/>
<path class="l" d="M466.700 784V797"/>
<path class="k" d="M461.500 799.500l4.500-2 5.500 1 1.500 3.500-3.500 3-5.500.5-3.500-2.500z"/>
<path d="M465.500 800.500l2-.5 1.500.7-.2 1.200-2 .5-1.300-.7z" fill="#fff"/>
<path class="k" d="M461.500 812l4.500-2.500 5.500 1.500 1.500 4-3 4-5.500.5-4-3z"/>
<path d="M465.500 813.500l2-.7 1.600 1-.2 1.600-2 .7-1.600-1z" fill="#fff"/>
<path class="l" d="M466.700 820v3"/>
</g>
<!-- 140 -->
<g id="p140">
<path class="k" d="M398.500 662.500l3-3 5-1 3 2 .5 3.500-3 3-5 1-2.500-2z"/>
<path d="M401 662.500l2-1 .5 1.500-1.500 1zM405 661l1.500-.5.500 1.500-1.500.8z" fill="#fff"/>
<path class="l" d="M400 666L397.400 668"/>
</g>

<g style="opacity:0.999">
<text class="b" x="263.65" y="356.25">060</text>
<text class="b" x="232.40" y="378.00">100</text>
<text class="b" x="203.65" y="396.50">120</text>
<text class="b" x="169.90" y="415.50">050</text>
<text class="b" x="94.40" y="452.50">130</text>
<text class="b" x="325.90" y="458.50">020</text>
<text class="b" x="295.15" y="476.25">070</text>
<text class="b" x="264.90" y="494.50">110</text>
<text class="b" x="234.15" y="512.75">080</text>
<text class="b" x="183.15" y="540.25">090</text>
<text class="b" x="323.90" y="494.25">150</text>
<text class="b" x="390.90" y="489.25">170</text>
<text class="b" x="366.65" y="503.00">160</text>
<text class="b" x="330.90" y="525.00">180</text>
<text class="b" x="309.40" y="539.50">160</text>
<text class="b" x="287.40" y="553.00">170</text>
<text class="b" x="383.40" y="402.50">201</text>
<text class="b" x="602.65" y="448.50">310</text>
<text class="b" x="414.90" y="548.00">205</text>
<text class="b" x="668.40" y="585.50">230</text>
<text class="b" x="619.40" y="616.50">220</text>
<text class="b" x="698.40" y="520.50">010</text>
<text class="b" x="412.90" y="594.75">270</text>
<text class="b" x="401.65" y="614.00">275</text>
<text class="b" x="389.90" y="646.00">140</text>
<text class="b" x="554.65" y="649.50">260</text>
<text class="b" x="491.90" y="688.00">240</text>
<text class="b" x="553.90" y="688.50">250</text>
<text class="b" x="238.90" y="667.00">300</text>
<text class="b" x="220.90" y="682.00">280</text>
<text class="b" x="201.15" y="698.50">290</text>
<text class="b" x="382.40" y="743.00">190</text>
<text class="b" x="382.90" y="760.00">200</text>
<text class="b" x="420.40" y="709.75">150</text>
<text class="b" x="491.90" y="806.00">190</text>
<text class="b" x="491.90" y="826.75">200</text>
<text class="b" x="798.40" y="614.50">060</text>
<text class="b" x="664.90" y="633.50">100</text>
<text class="b" x="637.65" y="649.00">120</text>
<text class="b" x="613.15" y="662.00">050</text>
<text class="b" x="534.90" y="711.50">090</text>
<text class="b" x="788.90" y="725.00">020</text>
<text class="b" x="765.90" y="741.00">070</text>
<text class="b" x="737.15" y="755.75">110</text>
<text class="b" x="710.15" y="771.50">080</text>
<text class="b" x="637.90" y="811.50">130</text>
<text class="t" x="423.40" y="381.25">205</text>
<text class="t" x="423.40" y="403.00">300</text>
<text class="t" x="423.40" y="425.00">310</text>
<text class="t" x="450.40" y="521.50">210</text>
<text class="t" x="449.65" y="545.50">270</text>
<text class="t" x="448.90" y="575.50">290</text>
<text class="t" x="483.90" y="503.00">220</text>
<text class="t" x="483.90" y="528.00">260</text>
<text class="t" x="733.90" y="489.00">020</text>
<text class="t" x="733.90" y="511.25">050</text>
<text class="t" x="734.90" y="544.50">130</text>
<text class="m" transform="translate(557 854.5) scale(1 1.38)" x="0" y="0">6C040-014-11</text>
</g>
</svg>
</body></html>
